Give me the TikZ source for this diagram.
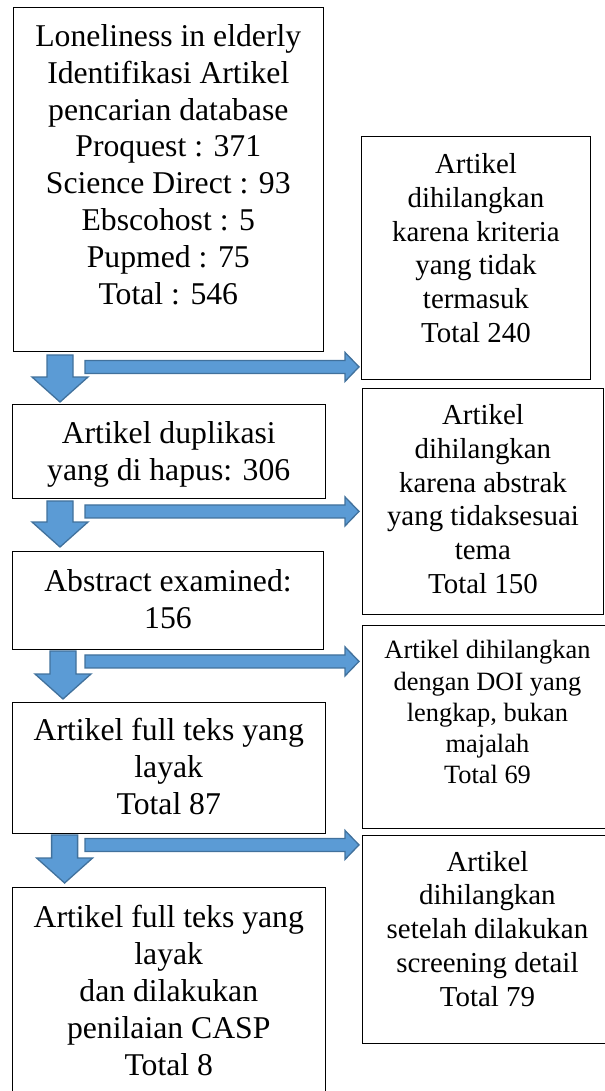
\documentclass[tikz,border=0pt]{standalone}
\usepackage{fontspec}
\setmainfont{Liberation Serif}
\usetikzlibrary{positioning,calc}
\definecolor{arrblue}{RGB}{91,155,213}
\definecolor{arredge}{RGB}{65,113,156}

\begin{document}
\begin{tikzpicture}[x=1bp, y=-1bp, box/.style={draw,line width=0.9bp,anchor=north west,inner sep=0pt}, ltxt/.style={inner sep=0pt,align=center,font=\fontsize{31.7bp}{36.9bp}\selectfont}, rtxt/.style={inner sep=0pt,align=center,font=\fontsize{28.9bp}{33.7bp}\selectfont}, stxt/.style={inner sep=0pt,align=center,font=\fontsize{26.4bp}{31.2bp}\selectfont}, blk/.style={fill=arrblue,draw=arredge,line width=1.3bp}, downarr/.style={blk,to path={let \p1=(\tikztostart), \p2=(\tikztotarget) in (\x1-13bp,\y1) -- (\x1+13bp,\y1) -- (\x1+13bp,\y2+25bp) -- (\x1+28bp,\y2+25bp) -- (\x1,\y2) -- (\x1-28bp,\y2+25bp) -- (\x1-13bp,\y2+25bp) -- cycle}}, rightarr/.style={blk,to path={let \p1=(\tikztostart), \p2=(\tikztotarget) in (\x1,\y1+6.5bp) -- (\x2-14bp,\y1+6.5bp) -- (\x2-14bp,\y1+14.5bp) -- (\x2,\y1) -- (\x2-14bp,\y1-14.5bp) -- (\x2-14bp,\y1-6.5bp) -- (\x1,\y1-6.5bp) -- cycle}}]
  \useasboundingbox (0,0) rectangle (605,1091);
  % left column
  \node[box,minimum width=310.3bp,minimum height=344bp] (search) at (12.7,7) {};
  \node[box,minimum width=313.4bp,minimum height=94bp] (dup) at (11.6,404) {};
  \node[box,minimum width=311bp,minimum height=98bp] (abs) at (12,551) {};
  \node[box,minimum width=313.4bp,minimum height=131bp] (full) at (11.6,702) {};
  \node[box,minimum width=313.4bp,minimum height=230bp] (casp) at (11.6,887) {};
  % right column
  \node[box,minimum width=229bp,minimum height=243bp] (crit) at (361,136) {};
  \node[box,minimum width=241bp,minimum height=226bp] (tema) at (362,388) {};
  \node[box,minimum width=250bp,minimum height=203bp] (doi) at (362,625) {};
  \node[box,minimum width=250bp,minimum height=208bp] (detail) at (362,835) {};
  % texts
  \node[ltxt,below=17bp of search.north] (searchtxt) {Loneliness in elderly\\Identifikasi Artikel\\pencarian database\\Proquest : 371\\Science Direct : 93\\Ebscohost : 5\\Pupmed : 75\\Total : 546};
  \node[ltxt,below=17.6bp of dup.north] (duptxt) {Artikel duplikasi\\yang di hapus: 306};
  \node[ltxt,below=18bp of abs.north] (abstxt) {Abstract examined:\\156};
  \node[ltxt,below=16.3bp of full.north] (fulltxt) {Artikel full teks yang\\layak\\Total 87};
  \node[ltxt,below=18bp of casp.north] (casptxt) {Artikel full teks yang\\layak\\dan dilakukan\\penilaian CASP\\Total 8};
  \node[rtxt,below=17.6bp of crit.north] (crittxt) {Artikel\\dihilangkan\\karena kriteria\\yang tidak\\termasuk\\Total 240};
  \node[rtxt,below=16.6bp of tema.north] (tematxt) {Artikel\\dihilangkan\\karena abstrak\\yang tidaksesuai\\tema\\Total 150};
  \node[stxt,below=15.3bp of doi.north] (doitxt) {Artikel dihilangkan\\dengan DOI yang\\lengkap, bukan\\majalah\\Total 69};
  \node[rtxt,below=16bp of detail.north] (detailtxt) {Artikel\\dihilangkan\\setelah dilakukan\\screening detail\\Total 79};
  % block arrows
  \coordinate (s1) at ($(search.south west)+(72.3,15)$);
  \coordinate (s2) at ($(dup.south west)+(73.4,12.5)$);
  \coordinate (s3) at ($(abs.south west)+(73,11.5)$);
  \coordinate (s4) at ($(full.south west)+(73.4,11)$);
  \draw[downarr] ($(search.south west)+(47.3,3)$) to ($(dup.north)+(0,-2)$);
  \draw[downarr] ($(dup.south west)+(48.4,2)$) to ($(abs.north)+(0,-4)$);
  \draw[downarr] ($(abs.south west)+(51,1)$) to ($(full.north)+(0,-3)$);
  \draw[downarr] ($(full.south west)+(53,1)$) to ($(casp.north)+(0,-4)$);
  \draw[rightarr] (s1) to ($(crit.west |- s1)+(-2,0)$);
  \draw[rightarr] (s2) to ($(tema.west |- s2)+(-3,0)$);
  \draw[rightarr] (s3) to ($(doi.west |- s3)+(-3,0)$);
  \draw[rightarr] (s4) to ($(detail.west |- s4)+(-3,0)$);
\end{tikzpicture}
\end{document}
